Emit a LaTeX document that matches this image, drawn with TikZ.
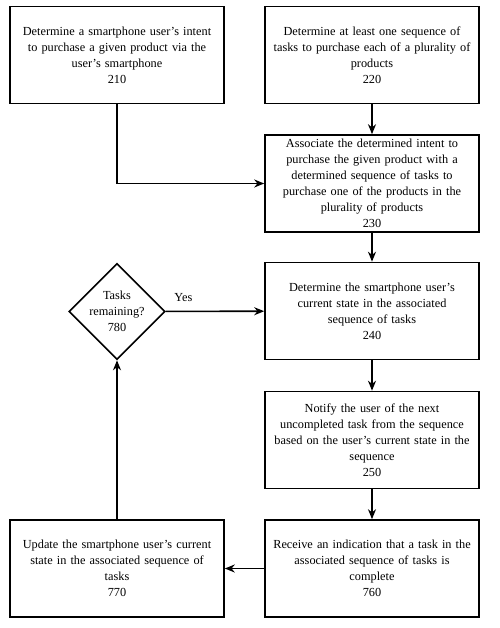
\documentclass[tikz,border=0pt]{standalone}
\usepackage{fontspec}
\setmainfont{Liberation Serif}
\usetikzlibrary{arrows.meta,shapes.geometric}

\begin{document}
\begin{tikzpicture}[x=1pt,y=-1pt,
    stepbox/.style={draw,line width=1.6pt,minimum width=214pt,minimum height=97pt,text width=208pt,align=center,inner sep=1pt,font=\fontsize{12.3}{16}\selectfont},
    decide/.style={draw,diamond,aspect=1,line width=1.6pt,minimum width=96pt,inner sep=0pt,align=center,font=\fontsize{12.3}{16}\selectfont},
    flow/.style={line width=1.6pt,-{Stealth[length=10pt,width=8pt]}}]
    \useasboundingbox (0,0) rectangle (499,628);
    \node[stepbox] (s210) at (117,55) {Determine a smartphone user's intent\\to purchase a given product via the\\user's smartphone\\210};
    \node[stepbox] (s220) at (372,55) {Determine at least one sequence of\\tasks to purchase each of a plurality of\\products\\220};
    \node[stepbox] (s230) at (372,183.5) {Associate the determined intent to\\purchase the given product with a\\determined sequence of tasks to\\purchase one of the products in the\\plurality of products\\230};
    \node[stepbox] (s240) at (372,311) {Determine the smartphone user's\\current state in the associated\\sequence of tasks\\240};
    \node[stepbox] (s250) at (372,440) {Notify the user of the next\\uncompleted task from the sequence\\based on the user's current state in the\\sequence\\250};
    \node[stepbox] (s760) at (372,568.5) {Receive an indication that a task in the\\associated sequence of tasks is\\complete\\760};
    \node[stepbox] (s770) at (117,568.5) {Update the smartphone user's current\\state in the associated sequence of\\tasks\\770};
    \node[decide] (s780) at (117,311.5) {Tasks\\remaining?\\780};

    \draw[flow] (s210) |- (s230);
    \draw[flow] (s220) -- (s230);
    \draw[flow] (s230) -- (s240);
    \draw[flow] (s240) -- (s250);
    \draw[flow] (s250) -- (s760);
    \draw[flow] (s760) -- (s770);
    \draw[flow] (s770) -- (s780);
    \draw[flow] (s780) -- node[above=6pt,pos=0.18,font=\fontsize{12.3}{16}\selectfont]{Yes} (s240);
\end{tikzpicture}
\end{document}
